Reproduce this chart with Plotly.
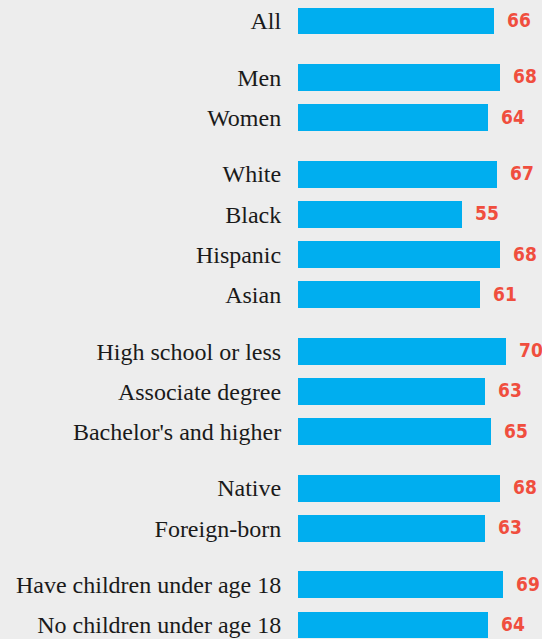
import plotly.graph_objects as go

# Data
groups = [
    ["All"],
    ["Men", "Women"],
    ["White", "Black", "Hispanic", "Asian"],
    ["High school or less", "Associate degree", "Bachelor's and higher"],
    ["Native", "Foreign-born"],
    ["Have children under age 18", "No children under age 18"],
]
values = [66, 68, 64, 67, 55, 68, 61, 70, 63, 65, 68, 63, 69, 64]

GROUP_GAP = 0.4
categories = []
positions = []
i = 0
for g, grp in enumerate(groups):
    for c in grp:
        categories.append(c)
        positions.append(i + GROUP_GAP * g)
        i += 1

BAR_COLOR = "#00aeef"
LABEL_COLOR = "#f04e3e"
BG = "#ededed"

fig = go.Figure(
    go.Bar(
        x=values,
        y=positions,
        orientation="h",
        marker=dict(color=BAR_COLOR, line=dict(width=0)),
        width=0.67,
        hoverinfo="skip",
    )
)

for v, p in zip(values, positions):
    fig.add_annotation(
        x=v, y=p, text=f"<b>{v}</b>", showarrow=False,
        xanchor="left", yanchor="middle", xshift=11, yshift=1,
        font=dict(family="DejaVu Sans Condensed, Liberation Sans Narrow, sans-serif",
                  size=19, color=LABEL_COLOR),
    )

px_per_row = 40.27
top = positions[0] - 21 / px_per_row
bottom = positions[-1] + (639 - 625) / px_per_row

fig.update_layout(
    width=542, height=639,
    margin=dict(l=298, r=0, t=0, b=0),
    paper_bgcolor=BG, plot_bgcolor=BG,
    showlegend=False,
    bargap=0,
    xaxis=dict(range=[0, 82], visible=False, fixedrange=True),
    yaxis=dict(
        range=[bottom, top],
        tickmode="array", tickvals=positions, ticktext=categories,
        ticks="outside", ticklen=11, tickcolor="rgba(0,0,0,0)",
        showgrid=False, zeroline=False, showline=False,
        tickfont=dict(family="Liberation Serif, serif", size=24, color="#1a1a1a"),
        fixedrange=True,
    ),
)

fig.write_html(
    "out.html",
    config={"displayModeBar": False},
    post_script="document.body.style.margin='0';document.body.style.background='%s';" % BG,
)
